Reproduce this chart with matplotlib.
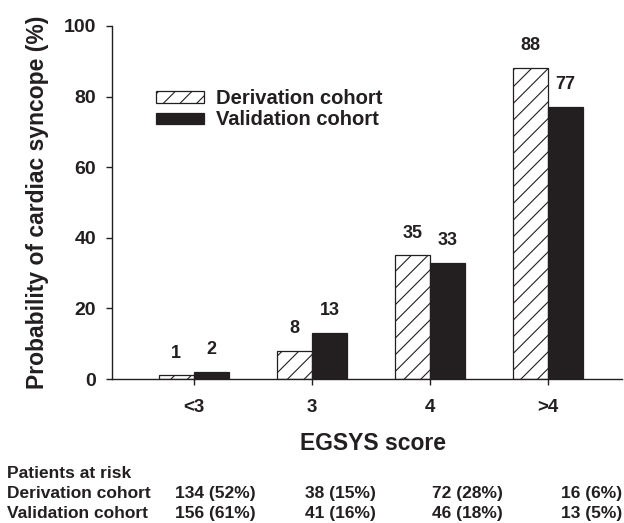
import numpy as np
import matplotlib.pyplot as plt
from matplotlib.patches import Patch

plt.rcParams.update({
    'font.family': ['Liberation Sans', 'DejaVu Sans'],
    'font.weight': 'bold',
    'hatch.linewidth': 0.8,
    'hatch.color': '#231f20',
})

INK = '#231f20'

# EGSYS score groups and probability of cardiac syncope (%)
scores = ['<3', '3', '4', '>4']
derivation = [1, 8, 35, 88]
validation = [2, 13, 33, 77]

# patients at risk per score group
derivation_risk = ['134 (52%)', '38 (15%)', '72 (28%)', '16 (6%)']
validation_risk = ['156 (61%)', '41 (16%)', '46 (18%)', '13 (5%)']
risk_x = [215, 340, 467, 592]  # column centres, pixels

W, H = 624, 523
fig = plt.figure(figsize=(W / 100, H / 100), dpi=100, facecolor='white')
ax = fig.add_axes([112 / W, 1 - 379 / H, (622 - 112) / W, (379 - 26) / H])

x = np.arange(len(scores))
bw = 0.3
b1 = ax.bar(x - bw / 2, derivation, bw, facecolor='white', edgecolor=INK,
            linewidth=0.9, hatch='//', label='Derivation cohort')
b2 = ax.bar(x + bw / 2, validation, bw, facecolor=INK, edgecolor=INK,
            linewidth=0.9, label='Validation cohort')

for bars in (b1, b2):
    for rect in bars:
        v = rect.get_height()
        ax.annotate(f'{v:g}', (rect.get_x() + rect.get_width() / 2, v),
                    xytext=(0, 10), textcoords='offset points',
                    ha='center', va='bottom', fontsize=13,
                    fontweight='bold', color=INK)

ax.set_xlim(-0.695, 3.627)
ax.set_ylim(0, 100)
ax.set_yticks(np.arange(0, 101, 20))
ax.set_xticks(x)
ax.set_xticklabels(scores)

for side in ('top', 'right'):
    ax.spines[side].set_visible(False)
for side in ('left', 'bottom'):
    ax.spines[side].set_color(INK)
    ax.spines[side].set_linewidth(1.0)

ax.tick_params(axis='both', direction='out', length=4.3, width=1.0,
               color=INK, labelcolor=INK)
ax.tick_params(axis='x', pad=10, labelsize=13.5)
ax.tick_params(axis='y', pad=7, labelsize=14)
for lab in ax.get_xticklabels() + ax.get_yticklabels():
    lab.set_fontweight('bold')

ax.set_ylabel('Probability of cardiac syncope (%)', fontsize=16.5,
              fontweight='bold', color=INK, labelpad=11)
fig.text(373 / W, 1 - 444 / H, 'EGSYS score', ha='center', va='center',
         fontsize=16.5, fontweight='bold', color=INK)

handles = [Patch(facecolor='white', edgecolor=INK, hatch='//', linewidth=0.9),
           Patch(facecolor=INK, edgecolor=INK, linewidth=0.9)]
fig.legend(handles, ['Derivation cohort', 'Validation cohort'],
           loc='upper left', bbox_to_anchor=(156 / W, 1 - 89 / H),
           frameon=False, borderpad=0, borderaxespad=0,
           handlelength=2.4, handleheight=0.5, handletextpad=0.6,
           labelspacing=0.12, prop={'size': 14.5, 'weight': 'bold'},
           labelcolor=INK)

# patients-at-risk table under the axis
fig.text(7 / W, 1 - 478 / H, 'Patients at risk', ha='left', va='baseline',
         fontsize=12.5, fontweight='bold', color=INK)
rows = [('Derivation cohort', derivation_risk, 498),
        ('Validation cohort', validation_risk, 518)]
for name, vals, yb in rows:
    fig.text(7 / W, 1 - yb / H, name, ha='left', va='baseline',
             fontsize=12.5, fontweight='bold', color=INK)
    for xc, s in zip(risk_x, vals):
        fig.text(xc / W, 1 - yb / H, s, ha='center', va='baseline',
                 fontsize=12.5, fontweight='bold', color=INK)

fig.savefig('out.png', dpi=100, facecolor='white')
